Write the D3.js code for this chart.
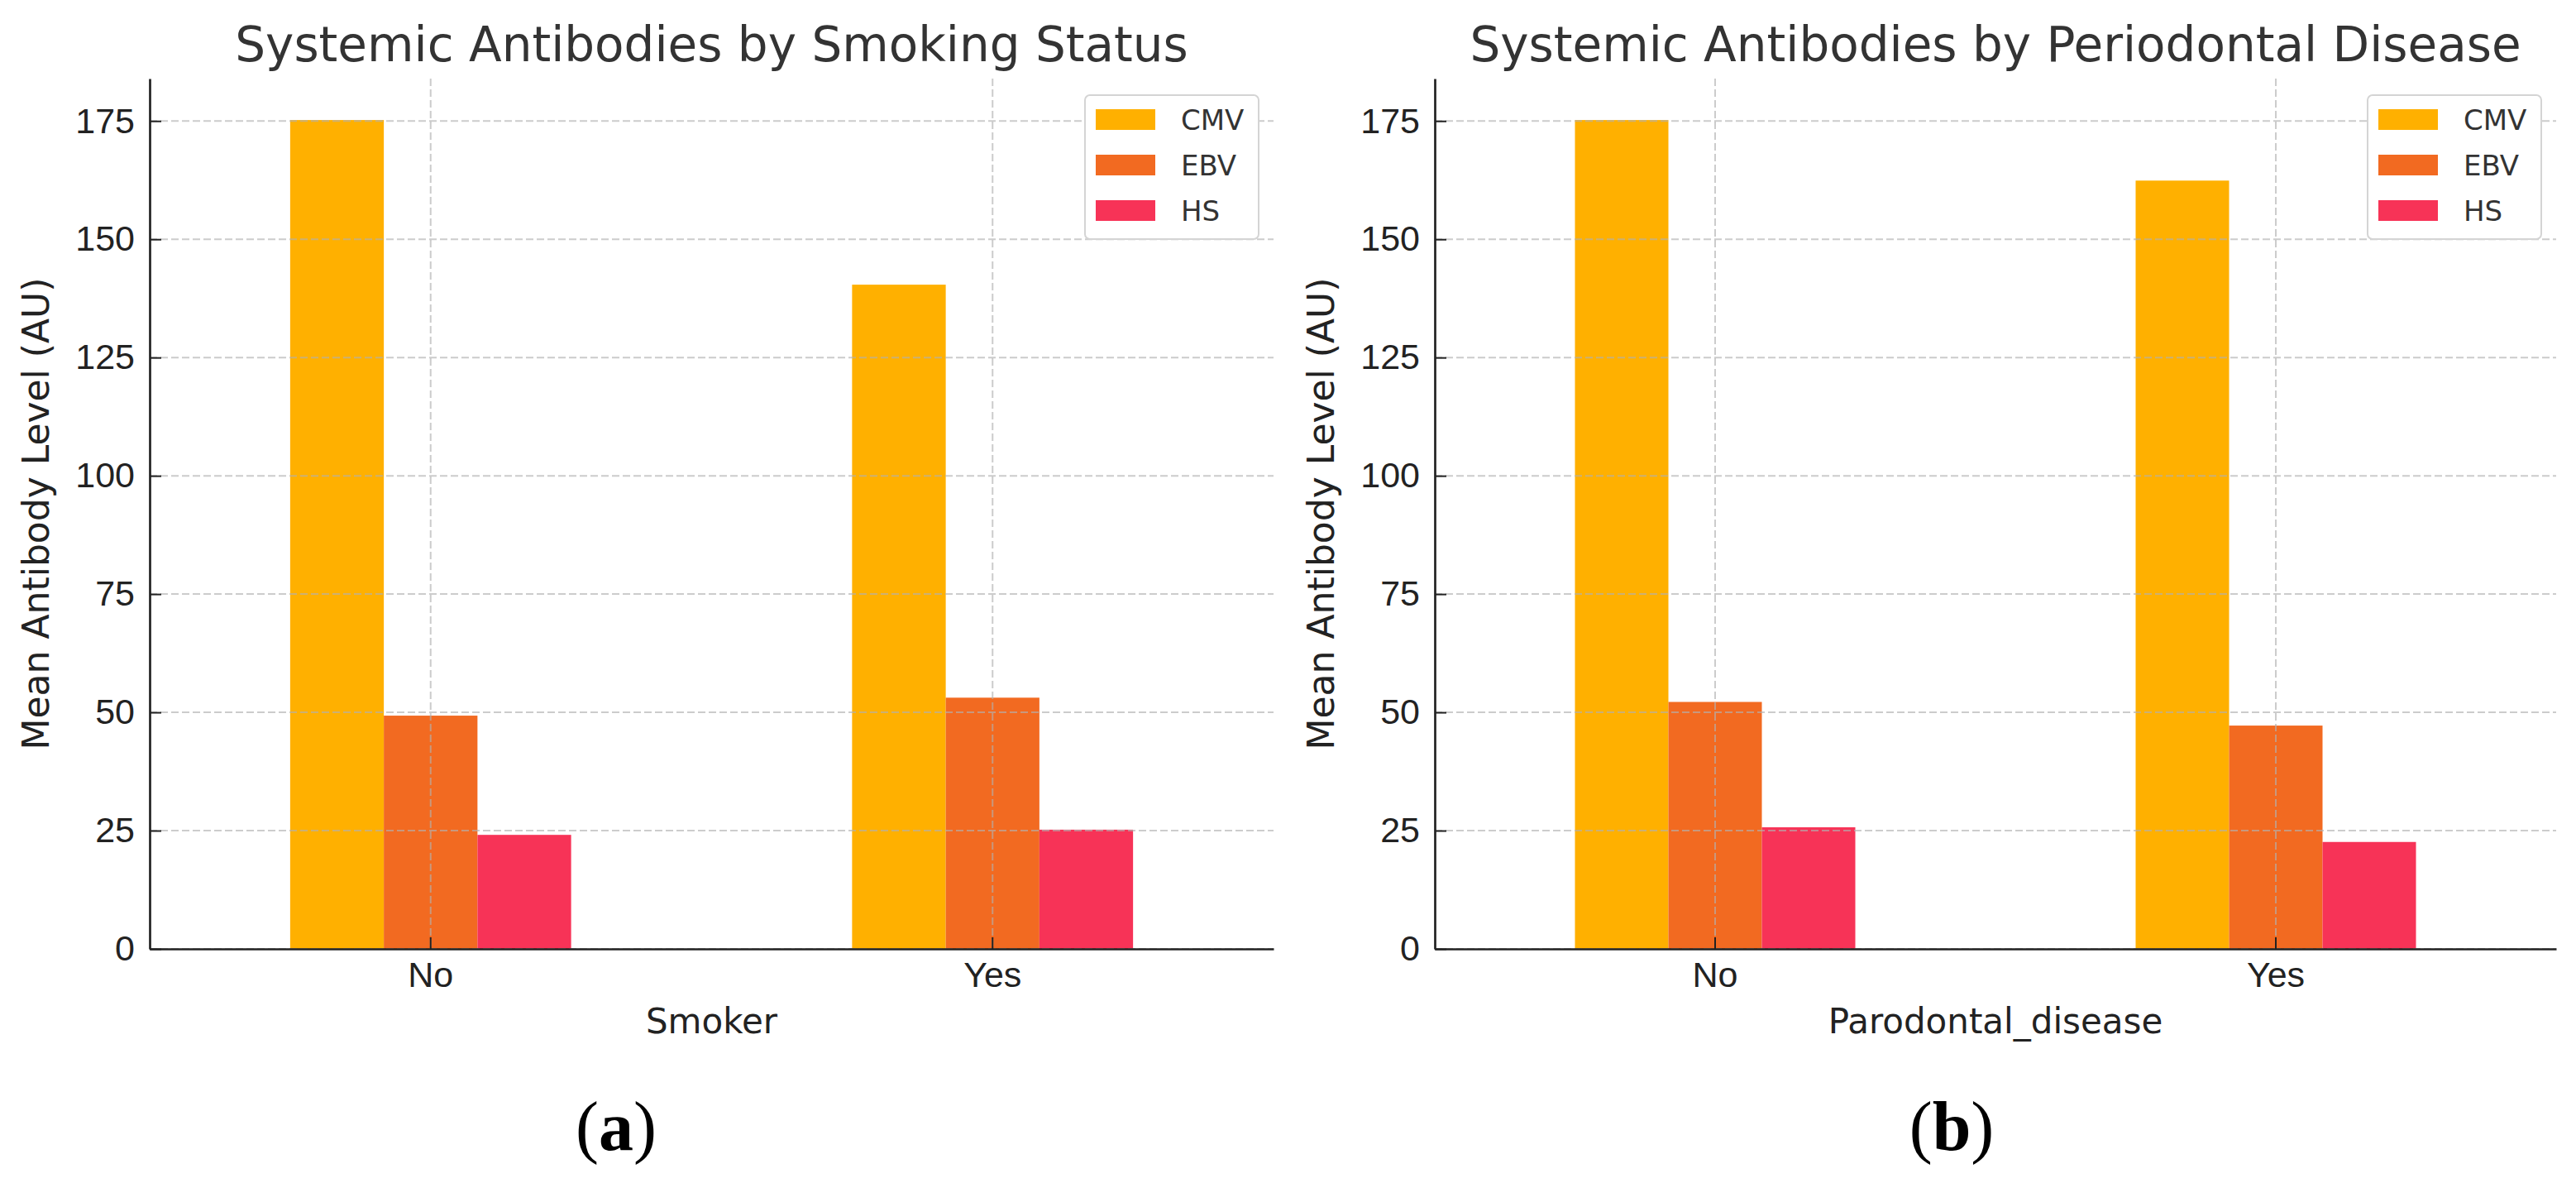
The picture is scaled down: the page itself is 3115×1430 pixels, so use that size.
<!DOCTYPE html>
<html>
<head>
<meta charset="utf-8">
<script src="https://cdn.jsdelivr.net/npm/d3@7"></script>
<style>
  body { margin: 0; background: #fff; }
  svg { display: block; font-family: "DejaVu Sans", sans-serif; }
</style>
</head>
<body>
<svg id="chart" width="3115" height="1430"></svg>
<script>
'use strict';

var seriesNames = ["CMV", "EBV", "HS"];
var seriesColors = ["#FFB000", "#F26A21", "#F73357"];
var yTicks = [0, 25, 50, 75, 100, 125, 150, 175];

var smokerCategories = ["No", "Yes"];
var smokerCMV = [175.2, 140.4];
var smokerEBV = [49.3, 53.1];
var smokerHS = [24.1, 25.2];

var perioCategories = ["No", "Yes"];
var perioCMV = [175.2, 162.4];
var perioEBV = [52.2, 47.2];
var perioHS = [25.7, 22.6];

function barPanel() {
    var left = 0, right = 100, top = 0, bottom = 100;

    function display(selection) {
        selection.each(function(data, i) {
            var g = d3.select(this);

            var maxVal = d3.max(data.values, function(s) { return d3.max(s); });
            var y = d3.scaleLinear().domain([0, maxVal * 1.05]).range([bottom, top]);
            var x = d3.scaleBand().domain(data.categories).range([left, right])
                .paddingInner(0.5).paddingOuter(0.25);
            var xs = d3.scaleBand().domain(seriesNames).range([0, x.bandwidth()]);

            // bars
            data.categories.forEach(function(cat, ci) {
                g.append("g")
                    .selectAll("rect")
                    .data(seriesNames)
                    .enter().append("rect")
                    .attr("x", function(s) { return x(cat) + xs(s); })
                    .attr("width", xs.bandwidth())
                    .attr("y", function(s, si) { return y(data.values[si][ci]); })
                    .attr("height", function(s, si) { return bottom - y(data.values[si][ci]); })
                    .style("fill", function(s, si) { return seriesColors[si]; });
            });

            // grid (drawn on top of bars, like the original)
            var grid = g.append("g").attr("class", "grid")
                .style("stroke", "#b0b0b0")
                .style("stroke-opacity", 0.65)
                .style("stroke-width", 2)
                .style("stroke-dasharray", "9,4");
            grid.selectAll("line.h")
                .data(yTicks)
                .enter().append("line")
                .attr("x1", left).attr("x2", right)
                .attr("y1", function(d) { return y(d); })
                .attr("y2", function(d) { return y(d); });
            grid.selectAll("line.v")
                .data(data.categories)
                .enter().append("line")
                .attr("x1", function(d) { return x(d) + x.bandwidth() / 2; })
                .attr("x2", function(d) { return x(d) + x.bandwidth() / 2; })
                .attr("y1", top).attr("y2", bottom);

            // axes
            var yAxis = g.append("g")
                .attr("transform", "translate(" + left + ",0)")
                .call(d3.axisLeft(y).tickValues(yTicks).tickSizeInner(-14).tickSizeOuter(0).tickPadding(18));
            var xAxis = g.append("g")
                .attr("transform", "translate(0," + bottom + ")")
                .call(d3.axisBottom(x).tickSizeInner(-14).tickSizeOuter(0).tickPadding(15));

            [yAxis, xAxis].forEach(function(a) {
                a.select(".domain").style("stroke", "#222").style("stroke-width", 2.7);
                a.selectAll(".tick line").style("stroke", "#222").style("stroke-width", 2);
                a.selectAll(".tick text")
                    .style("font-size", "43px")
                    .style("fill", "#222");
            });

            // titles and labels
            g.append("text")
                .attr("x", (left + right) / 2)
                .attr("y", 74)
                .attr("text-anchor", "middle")
                .style("font-size", "58px")
                .style("fill", "#333")
                .text(data.title);

            g.append("text")
                .attr("transform", "translate(" + (left - 122) + "," + ((top + bottom) / 2) + ") rotate(-90)")
                .attr("text-anchor", "middle")
                .style("font-size", "44px")
                .style("fill", "#222")
                .text("Mean Antibody Level (AU)");

            g.append("text")
                .attr("x", (left + right) / 2)
                .attr("y", 1249)
                .attr("text-anchor", "middle")
                .style("font-size", "42px")
                .style("fill", "#222")
                .text(data.xLabel);

            // legend
            var lg = g.append("g")
                .attr("transform", "translate(" + (right - 18 - 210) + "," + (top + 20) + ")");
            lg.append("rect")
                .attr("width", 210).attr("height", 174)
                .attr("rx", 6).attr("ry", 6)
                .style("fill", "#fff")
                .style("stroke", "#d4d4d4")
                .style("stroke-width", 2);
            var item = lg.selectAll("g.item")
                .data(seriesNames)
                .enter().append("g")
                .attr("transform", function(d, k) { return "translate(13," + (17 + k * 55) + ")"; });
            item.append("rect")
                .attr("width", 72).attr("height", 25)
                .style("fill", function(d, k) { return seriesColors[k]; });
            item.append("text")
                .attr("x", 103).attr("y", 25)
                .style("font-size", "34px")
                .style("fill", "#333")
                .text(function(d) { return d; });

            // panel letter
            var letter = g.append("text")
                .attr("x", data.letterX)
                .attr("y", 1390)
                .attr("text-anchor", "middle")
                .style("font-family", "'Liberation Serif', 'Times New Roman', serif")
                .style("font-size", "84px")
                .style("fill", "#000");
            letter.append("tspan").text("(");
            letter.append("tspan").style("font-weight", "bold").text(data.letter);
            letter.append("tspan").text(")");
        });
    }

    display.frame = function(l, r, t, b) {
        left = l; right = r; top = t; bottom = b;
        return display;
    };

    return display;
}

var svg = d3.select("#chart");

svg.append("g")
    .datum({
        title: "Systemic Antibodies by Smoking Status",
        xLabel: "Smoker",
        categories: smokerCategories,
        values: [smokerCMV, smokerEBV, smokerHS],
        letter: "a",
        letterX: 745
    })
    .call(barPanel().frame(181, 1540, 95, 1147));

svg.append("g")
    .datum({
        title: "Systemic Antibodies by Periodontal Disease",
        xLabel: "Parodontal_disease",
        categories: perioCategories,
        values: [perioCMV, perioEBV, perioHS],
        letter: "b",
        letterX: 2360
    })
    .call(barPanel().frame(1735, 3091, 95, 1147));
</script>
</body>
</html>
